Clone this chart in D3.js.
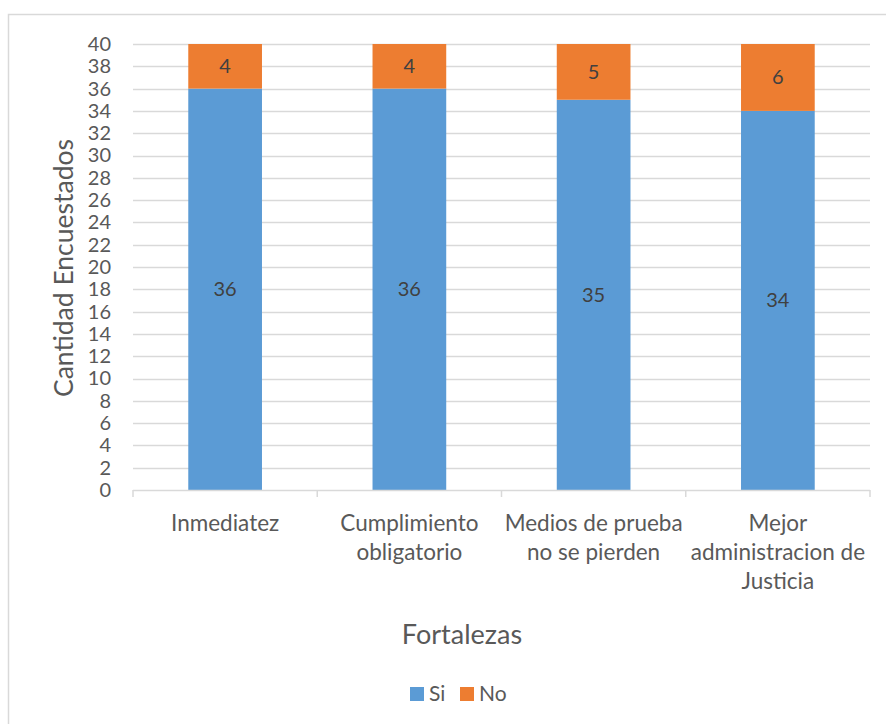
<!DOCTYPE html>
<html>
<head>
<meta charset="utf-8">
<script src="https://cdn.jsdelivr.net/npm/d3@7"></script>
<style>
  html, body { margin: 0; padding: 0; background: #fff; }
  svg { display: block; font-family: Lato, "Open Sans", "Liberation Sans", sans-serif; }
</style>
</head>
<body>
<svg id="chart" width="886" height="724"></svg>
<script>
// Survey responses per strength
const categories = [
  ["Inmediatez"],
  ["Cumplimiento", "obligatorio"],
  ["Medios de prueba", "no se pierden"],
  ["Mejor", "administracion de", "Justicia"]
];
const seriesNames = ["Si", "No"];
const siValues = [36, 36, 35, 34];
const noValues = [4, 4, 5, 6];
const yTicks = d3.range(0, 41, 2);
const colors = ["#5B9BD5", "#ED7D31"];

const svg = d3.select("#chart");

// outer frame
svg.append("rect")
  .attr("x", 8.5).attr("y", 14.5)
  .attr("width", 900).attr("height", 740)
  .attr("fill", "#fff").attr("stroke", "#d9d9d9").attr("stroke-width", 1.5);

const plotLeft = 133, plotRight = 870, plotTop = 44, plotBottom = 490;

const x = d3.scaleBand()
  .domain(d3.range(categories.length))
  .range([plotLeft, plotRight])
  .paddingInner(0)
  .paddingOuter(0);

const barWidth = x.bandwidth() * 0.40;

const y = d3.scaleLinear().domain([0, 40]).range([plotBottom, plotTop]);

// gridlines
svg.append("g")
  .selectAll("line")
  .data(yTicks.filter(d => d > 0))
  .join("line")
  .attr("x1", plotLeft).attr("x2", plotRight)
  .attr("y1", d => Math.round(y(d)) + 0.5)
  .attr("y2", d => Math.round(y(d)) + 0.5)
  .attr("stroke", "#d9d9d9").attr("stroke-width", 1.5);

// y axis labels
const yAxis = d3.axisLeft(y).tickValues(yTicks).tickSize(0).tickPadding(0);
const gy = svg.append("g").attr("transform", `translate(${plotLeft - 22},0)`).call(yAxis);
gy.select(".domain").remove();
gy.selectAll("text")
  .attr("font-size", 20)
  .attr("fill", "#595959")
  .attr("font-family", "Lato, 'Open Sans', sans-serif");

// stacked data
const rows = categories.map((c, i) => ({ i, Si: siValues[i], No: noValues[i] }));
const stack = d3.stack().keys(seriesNames)(rows);

const gBars = svg.append("g");
stack.forEach((layer, si) => {
  gBars.append("g")
    .selectAll("rect")
    .data(layer)
    .join("rect")
    .attr("x", d => x(d.data.i) + (x.bandwidth() - barWidth) / 2)
    .attr("width", barWidth)
    .attr("y", d => y(d[1]))
    .attr("height", d => y(d[0]) - y(d[1]))
    .attr("fill", colors[si]);
});

// value labels
stack.forEach((layer, si) => {
  svg.append("g")
    .selectAll("text")
    .data(layer)
    .join("text")
    .attr("x", d => x(d.data.i) + x.bandwidth() / 2)
    .attr("y", d => (y(d[0]) + y(d[1])) / 2)
    .attr("dy", "0.35em")
    .attr("text-anchor", "middle")
    .attr("font-size", 20)
    .attr("fill", "#404040")
    .text(d => d[1] - d[0]);
});

// x axis line and ticks
const gx = svg.append("g");
gx.append("line")
  .attr("x1", plotLeft).attr("x2", plotRight)
  .attr("y1", plotBottom + 0.5).attr("y2", plotBottom + 0.5)
  .attr("stroke", "#d9d9d9").attr("stroke-width", 1.5);
gx.selectAll("line.tick")
  .data(d3.range(categories.length + 1))
  .join("line")
  .attr("class", "tick")
  .attr("x1", i => i < categories.length ? x(i) : plotRight)
  .attr("x2", i => i < categories.length ? x(i) : plotRight)
  .attr("y1", plotBottom).attr("y2", plotBottom + 7)
  .attr("stroke", "#d9d9d9").attr("stroke-width", 1.5);

// category labels
const gl = svg.append("g");
categories.forEach((lines, i) => {
  const t = gl.append("text")
    .attr("text-anchor", "middle")
    .attr("font-size", 22.5)
    .attr("fill", "#595959");
  lines.forEach((ln, k) => {
    t.append("tspan")
      .attr("x", x(i) + x.bandwidth() / 2)
      .attr("y", 531 + k * 29)
      .text(ln);
  });
});

// axis titles
svg.append("text")
  .attr("transform", `translate(73,268) rotate(-90)`)
  .attr("text-anchor", "middle")
  .attr("font-size", 26.5)
  .attr("fill", "#595959")
  .text("Cantidad Encuestados");

svg.append("text")
  .attr("x", 462).attr("y", 644)
  .attr("text-anchor", "middle")
  .attr("font-size", 27)
  .attr("fill", "#595959")
  .text("Fortalezas");

// legend
const legend = svg.append("g");
const legendItems = [
  { name: seriesNames[0], color: colors[0], x: 410 },
  { name: seriesNames[1], color: colors[1], x: 460 }
];
legendItems.forEach(it => {
  legend.append("rect")
    .attr("x", it.x).attr("y", 687)
    .attr("width", 14).attr("height", 14)
    .attr("fill", it.color);
  legend.append("text")
    .attr("x", it.x + 19).attr("y", 701)
    .attr("font-size", 21)
    .attr("fill", "#595959")
    .text(it.name);
});
</script>
</body>
</html>
